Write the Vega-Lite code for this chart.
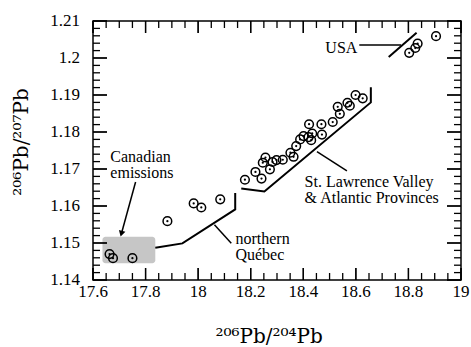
{
  "$schema": "https://vega.github.io/schema/vega-lite/v6.json",
  "autosize": {"type": "none"},
  "width": 368,
  "height": 259,
  "padding": {"left": 93, "top": 21, "right": 10, "bottom": 67},
  "background": "white",
  "config": {
    "view": {"stroke": "black", "strokeWidth": 1.5}
  },
  "datasets": {
    "pts": [
      {"x": 17.663, "y": 1.147}, {"x": 17.676, "y": 1.1459}, {"x": 17.75, "y": 1.1459},
      {"x": 17.883, "y": 1.1559}, {"x": 17.983, "y": 1.1607}, {"x": 18.012, "y": 1.1596}, {"x": 18.084, "y": 1.1618},
      {"x": 18.178, "y": 1.1671}, {"x": 18.218, "y": 1.1692}, {"x": 18.241, "y": 1.1674}, {"x": 18.246, "y": 1.1717},
      {"x": 18.256, "y": 1.1731}, {"x": 18.273, "y": 1.1699}, {"x": 18.283, "y": 1.1719}, {"x": 18.298, "y": 1.1724},
      {"x": 18.322, "y": 1.1725}, {"x": 18.351, "y": 1.1744}, {"x": 18.363, "y": 1.1733}, {"x": 18.373, "y": 1.1762},
      {"x": 18.388, "y": 1.178}, {"x": 18.401, "y": 1.1789}, {"x": 18.422, "y": 1.1821}, {"x": 18.42, "y": 1.1786},
      {"x": 18.43, "y": 1.1778}, {"x": 18.434, "y": 1.1796}, {"x": 18.469, "y": 1.1821}, {"x": 18.471, "y": 1.1793},
      {"x": 18.512, "y": 1.1827}, {"x": 18.531, "y": 1.1868}, {"x": 18.539, "y": 1.1849}, {"x": 18.568, "y": 1.1879},
      {"x": 18.577, "y": 1.1871}, {"x": 18.599, "y": 1.19}, {"x": 18.626, "y": 1.1891},
      {"x": 18.803, "y": 1.2014}, {"x": 18.826, "y": 1.2027}, {"x": 18.835, "y": 1.2039}, {"x": 18.905, "y": 1.2059}
    ],
    "outlines": [
      {"id": "Quebec", "o": 1, "x": 17.837, "y": 1.1487}, {"id": "Quebec", "o": 2, "x": 17.94, "y": 1.1499},
      {"id": "Quebec", "o": 3, "x": 18.141, "y": 1.1591}, {"id": "Quebec", "o": 4, "x": 18.141, "y": 1.1635},
      {"id": "StL", "o": 1, "x": 18.164, "y": 1.1647}, {"id": "StL", "o": 2, "x": 18.252, "y": 1.1639},
      {"id": "StL", "o": 3, "x": 18.657, "y": 1.188}, {"id": "StL", "o": 4, "x": 18.657, "y": 1.1921},
      {"id": "USA", "o": 1, "x": 18.725, "y": 1.2003}, {"id": "USA", "o": 2, "x": 18.831, "y": 1.2068}
    ],
    "leaders": [
      {"id": "q", "o": 1, "x": 18.062, "y": 1.1549}, {"id": "q", "o": 2, "x": 18.126, "y": 1.1499},
      {"id": "s", "o": 1, "x": 18.452, "y": 1.1747}, {"id": "s", "o": 2, "x": 18.566, "y": 1.1695},
      {"id": "u", "o": 1, "x": 18.613, "y": 1.2035}, {"id": "u", "o": 2, "x": 18.772, "y": 1.2035},
      {"id": "c", "o": 1, "x": 17.762, "y": 1.1665}, {"id": "c", "o": 2, "x": 17.708, "y": 1.1525}
    ],
    "arrow": [{"x": 17.708, "y": 1.1525}],
    "box": [{"x1": 17.636, "x2": 17.837, "y1": 1.1445, "y2": 1.1517}],
    "xmaj": [{"v": 17.6}, {"v": 17.8}, {"v": 18}, {"v": 18.2}, {"v": 18.4}, {"v": 18.6}, {"v": 18.8}, {"v": 19}],
    "xmin": [{"v": 17.65}, {"v": 17.7}, {"v": 17.75}, {"v": 17.85}, {"v": 17.9}, {"v": 17.95}, {"v": 18.05}, {"v": 18.1}, {"v": 18.15}, {"v": 18.25}, {"v": 18.3}, {"v": 18.35}, {"v": 18.45}, {"v": 18.5}, {"v": 18.55}, {"v": 18.65}, {"v": 18.7}, {"v": 18.75}, {"v": 18.85}, {"v": 18.9}, {"v": 18.95}],
    "ymaj": [{"v": 1.14}, {"v": 1.15}, {"v": 1.16}, {"v": 1.17}, {"v": 1.18}, {"v": 1.19}, {"v": 1.2}, {"v": 1.21}],
    "ymin": [{"v": 1.142}, {"v": 1.144}, {"v": 1.146}, {"v": 1.148}, {"v": 1.152}, {"v": 1.154}, {"v": 1.156}, {"v": 1.158}, {"v": 1.162}, {"v": 1.164}, {"v": 1.166}, {"v": 1.168}, {"v": 1.172}, {"v": 1.174}, {"v": 1.176}, {"v": 1.178}, {"v": 1.182}, {"v": 1.184}, {"v": 1.186}, {"v": 1.188}, {"v": 1.192}, {"v": 1.194}, {"v": 1.196}, {"v": 1.198}, {"v": 1.202}, {"v": 1.204}, {"v": 1.206}, {"v": 1.208}],
    "xtitle": [{"t": "²⁰⁶Pb/²⁰⁴Pb", "x": 18.27}],
    "ytitle": [{"t": "²⁰⁶Pb/²⁰⁷Pb", "y": 1.1773}],
    "labels": [
      {"t": "USA", "x": 18.484, "y": 1.2027},
      {"t": "Canadian", "x": 17.666, "y": 1.1733},
      {"t": "emissions", "x": 17.666, "y": 1.169},
      {"t": "northern", "x": 18.142, "y": 1.1511},
      {"t": "Québec", "x": 18.142, "y": 1.1468},
      {"t": "St. Lawrence Valley", "x": 18.405, "y": 1.1665},
      {"t": "& Atlantic Provinces", "x": 18.405, "y": 1.1621}
    ]
  },
  "layer": [
    {
      "data": {"name": "box"},
      "mark": {"type": "rect", "color": "#c6c6c6", "cornerRadius": 3},
      "encoding": {
        "x": {"field": "x1", "type": "quantitative", "scale": {"domain": [17.6, 19], "nice": false, "zero": false, "padding": 0}, "axis": null},
        "x2": {"field": "x2"},
        "y": {"field": "y1", "type": "quantitative", "scale": {"domain": [1.14, 1.21], "nice": false, "zero": false, "padding": 0}, "axis": null},
        "y2": {"field": "y2"}
      }
    },
    {
      "data": {"name": "xmaj"},
      "mark": {"type": "bar", "color": "black", "width": 1.3, "opacity": 1},
      "encoding": {"x": {"field": "v", "type": "quantitative", "axis": null}, "y": {"datum": 1.14, "type": "quantitative", "axis": null}, "y2": {"datum": 1.14324}}
    },
    {
      "data": {"name": "xmaj"},
      "mark": {"type": "bar", "color": "black", "width": 1.3, "opacity": 1},
      "encoding": {"x": {"field": "v", "type": "quantitative", "axis": null}, "y": {"datum": 1.21, "type": "quantitative", "axis": null}, "y2": {"datum": 1.20676}}
    },
    {
      "data": {"name": "xmin"},
      "mark": {"type": "bar", "color": "black", "width": 1.3, "opacity": 1},
      "encoding": {"x": {"field": "v", "type": "quantitative", "axis": null}, "y": {"datum": 1.14, "type": "quantitative", "axis": null}, "y2": {"datum": 1.14189}}
    },
    {
      "data": {"name": "xmin"},
      "mark": {"type": "bar", "color": "black", "width": 1.3, "opacity": 1},
      "encoding": {"x": {"field": "v", "type": "quantitative", "axis": null}, "y": {"datum": 1.21, "type": "quantitative", "axis": null}, "y2": {"datum": 1.20811}}
    },
    {
      "data": {"name": "ymaj"},
      "mark": {"type": "bar", "orient": "horizontal", "color": "black", "height": 1.3, "opacity": 1},
      "encoding": {"y": {"field": "v", "type": "quantitative", "axis": null}, "x": {"datum": 17.6, "type": "quantitative", "axis": null}, "x2": {"datum": 17.6532}}
    },
    {
      "data": {"name": "ymaj"},
      "mark": {"type": "bar", "orient": "horizontal", "color": "black", "height": 1.3, "opacity": 1},
      "encoding": {"y": {"field": "v", "type": "quantitative", "axis": null}, "x": {"datum": 19, "type": "quantitative", "axis": null}, "x2": {"datum": 18.9468}}
    },
    {
      "data": {"name": "ymin"},
      "mark": {"type": "bar", "orient": "horizontal", "color": "black", "height": 1.3, "opacity": 1},
      "encoding": {"y": {"field": "v", "type": "quantitative", "axis": null}, "x": {"datum": 17.6, "type": "quantitative", "axis": null}, "x2": {"datum": 17.6266}}
    },
    {
      "data": {"name": "ymin"},
      "mark": {"type": "bar", "orient": "horizontal", "color": "black", "height": 1.3, "opacity": 1},
      "encoding": {"y": {"field": "v", "type": "quantitative", "axis": null}, "x": {"datum": 19, "type": "quantitative", "axis": null}, "x2": {"datum": 18.9734}}
    },
    {
      "data": {"name": "xmaj"},
      "mark": {"type": "rule", "color": "black", "strokeWidth": 1.3},
      "encoding": {"x": {"field": "v", "type": "quantitative", "axis": null}, "y": {"datum": 1.14, "type": "quantitative", "axis": null}, "y2": {"datum": 1.14324}}
    },
    {
      "data": {"name": "xmaj"},
      "mark": {"type": "rule", "color": "black", "strokeWidth": 1.3},
      "encoding": {"x": {"field": "v", "type": "quantitative", "axis": null}, "y": {"datum": 1.21, "type": "quantitative", "axis": null}, "y2": {"datum": 1.20676}}
    },
    {
      "data": {"name": "ymaj"},
      "mark": {"type": "rule", "color": "black", "strokeWidth": 1.3},
      "encoding": {"y": {"field": "v", "type": "quantitative", "axis": null}, "x": {"datum": 17.6, "type": "quantitative", "axis": null}, "x2": {"datum": 17.6532}}
    },
    {
      "data": {"name": "ymaj"},
      "mark": {"type": "rule", "color": "black", "strokeWidth": 1.3},
      "encoding": {"y": {"field": "v", "type": "quantitative", "axis": null}, "x": {"datum": 19, "type": "quantitative", "axis": null}, "x2": {"datum": 18.9468}}
    },
    {
      "data": {"name": "xmaj"},
      "mark": {"type": "text", "align": "center", "baseline": "top", "dy": 4, "font": "Liberation Serif", "fontSize": 17, "color": "black"},
      "encoding": {"x": {"field": "v", "type": "quantitative", "axis": null}, "y": {"datum": 1.14, "type": "quantitative", "axis": null}, "text": {"field": "v", "type": "quantitative", "format": "~g"}}
    },
    {
      "data": {"name": "ymaj"},
      "mark": {"type": "text", "align": "right", "baseline": "middle", "dx": -13, "font": "Liberation Serif", "fontSize": 17, "color": "black"},
      "encoding": {"y": {"field": "v", "type": "quantitative", "axis": null}, "x": {"datum": 17.6, "type": "quantitative", "axis": null}, "text": {"field": "v", "type": "quantitative", "format": "~g"}}
    },
    {
      "data": {"name": "xtitle"},
      "mark": {"type": "text", "align": "center", "baseline": "alphabetic", "dy": 63, "font": "DejaVu Serif", "fontSize": 20, "color": "black"},
      "encoding": {"x": {"field": "x", "type": "quantitative", "axis": null}, "y": {"datum": 1.14, "type": "quantitative", "axis": null}, "text": {"field": "t"}}
    },
    {
      "data": {"name": "ytitle"},
      "mark": {"type": "text", "align": "center", "baseline": "middle", "angle": 270, "dy": -71, "font": "DejaVu Serif", "fontSize": 20, "color": "black"},
      "encoding": {"y": {"field": "y", "type": "quantitative", "axis": null}, "x": {"datum": 17.6, "type": "quantitative", "axis": null}, "text": {"field": "t"}}
    },
    {
      "data": {"name": "leaders"},
      "mark": {"type": "line", "color": "black", "strokeWidth": 1.5},
      "encoding": {
        "x": {"field": "x", "type": "quantitative", "axis": null},
        "y": {"field": "y", "type": "quantitative", "axis": null},
        "detail": {"field": "id"},
        "order": {"field": "o"}
      }
    },
    {
      "data": {"name": "outlines"},
      "mark": {"type": "line", "color": "black", "strokeWidth": 2},
      "encoding": {
        "x": {"field": "x", "type": "quantitative", "axis": null},
        "y": {"field": "y", "type": "quantitative", "axis": null},
        "detail": {"field": "id"},
        "order": {"field": "o"}
      }
    },
    {
      "data": {"name": "arrow"},
      "mark": {"type": "point", "shape": "triangle-down", "filled": true, "color": "black", "size": 45, "angle": 15.5, "opacity": 1},
      "encoding": {
        "x": {"field": "x", "type": "quantitative", "axis": null},
        "y": {"field": "y", "type": "quantitative", "axis": null}
      }
    },
    {
      "data": {"name": "pts"},
      "mark": {"type": "point", "shape": "circle", "filled": false, "color": "black", "strokeWidth": 1.5, "size": 75, "opacity": 1},
      "encoding": {
        "x": {"field": "x", "type": "quantitative", "axis": null},
        "y": {"field": "y", "type": "quantitative", "axis": null}
      }
    },
    {
      "data": {"name": "pts"},
      "mark": {"type": "point", "shape": "circle", "filled": true, "color": "black", "size": 5, "opacity": 1},
      "encoding": {
        "x": {"field": "x", "type": "quantitative", "axis": null},
        "y": {"field": "y", "type": "quantitative", "axis": null}
      }
    },
    {
      "data": {"name": "labels"},
      "mark": {"type": "text", "align": "left", "baseline": "middle", "font": "Liberation Serif", "fontSize": 16, "color": "black"},
      "encoding": {
        "x": {"field": "x", "type": "quantitative", "axis": null},
        "y": {"field": "y", "type": "quantitative", "axis": null},
        "text": {"field": "t"}
      }
    }
  ]
}
